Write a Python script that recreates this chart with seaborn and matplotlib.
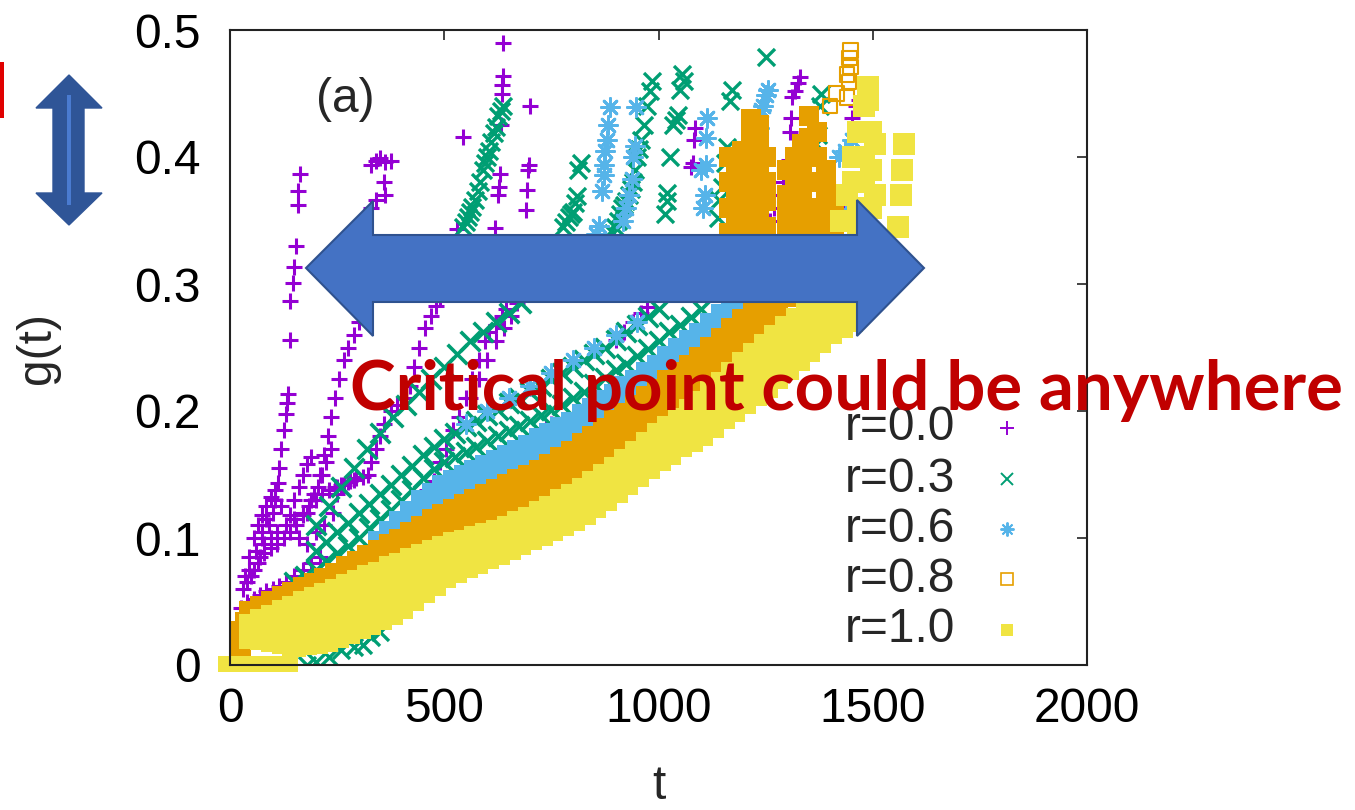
import matplotlib
matplotlib.use("Agg")
import matplotlib.pyplot as plt
import seaborn as sns
from matplotlib.patches import Polygon, Rectangle
from matplotlib.lines import Line2D

# ---------------- data ----------------
X_TICKS = [0, 500, 1000, 1500, 2000]
X_TICK_LABELS = ["0", "500", "1000", "1500", "2000"]
Y_TICKS = [0, 0.1, 0.2, 0.3, 0.4, 0.5]
Y_TICK_LABELS = ["0", "0.1", "0.2", "0.3", "0.4", "0.5"]
LABELS = ["r=0.0", "r=0.3", "r=0.6", "r=0.8", "r=1.0"]

# r = 0.0 (purple) runs
P_BASE_T = [25, 40, 55, 70, 85, 100, 115, 130, 150, 170, 190, 210]
P_BASE_G = [0.045, 0.05, 0.052, 0.055, 0.058, 0.06, 0.062, 0.065, 0.07, 0.075, 0.08, 0.085]
P_M1_T = [40, 55, 70, 80, 95, 110, 130, 150, 170, 190, 205, 215, 225, 235]
P_M1_G = [0.065, 0.075, 0.085, 0.095, 0.10, 0.105, 0.11, 0.115, 0.12, 0.13, 0.14, 0.15, 0.16, 0.17]
P_M2_T = [60, 75, 85, 100, 120, 140, 160, 180, 200, 220, 240, 250]
P_M2_G = [0.09, 0.105, 0.115, 0.12, 0.125, 0.118, 0.10, 0.095, 0.105, 0.11, 0.12, 0.135]
P_M3_T = [50, 65, 80, 95, 110, 125, 140, 155, 170, 185, 200, 215, 230, 245, 260, 275, 290]
P_M3_G = [0.07, 0.08, 0.088, 0.092, 0.095, 0.10, 0.105, 0.11, 0.118, 0.125, 0.13, 0.135, 0.138, 0.14, 0.142, 0.144, 0.146]
P_M4_T = [35, 45, 55, 65, 75, 85, 95, 105, 150, 160, 170, 180, 190]
P_M4_G = [0.07, 0.085, 0.10, 0.11, 0.118, 0.125, 0.132, 0.138, 0.13, 0.14, 0.15, 0.158, 0.164]
P_A_T = [30, 45, 60, 75, 90, 105, 112, 115, 120, 125, 130, 132, 135, 140, 140, 147, 150, 154, 159, 159, 163]
P_A_G = [0.06, 0.075, 0.09, 0.10, 0.11, 0.13, 0.143, 0.155, 0.17, 0.185, 0.198, 0.206, 0.213, 0.256, 0.287, 0.301, 0.313, 0.33, 0.362, 0.373, 0.387]
P_B_T = [180, 195, 210, 220, 228, 235, 245, 255, 265, 275, 290, 300, 315, 330, 340, 362, 360, 330, 340, 350, 362, 375]
P_B_G = [0.12, 0.135, 0.15, 0.165, 0.18, 0.195, 0.21, 0.225, 0.24, 0.25, 0.26, 0.27, 0.285, 0.36, 0.366, 0.37, 0.38, 0.394, 0.397, 0.399, 0.396, 0.397]
P_C_T = [250, 265, 280, 295, 310, 322, 330, 340, 350, 360, 375, 390, 410, 420, 430, 440, 455, 470, 480, 490, 530, 543]
P_C_G = [0.14, 0.142, 0.145, 0.147, 0.148, 0.15, 0.16, 0.17, 0.18, 0.19, 0.20, 0.205, 0.21, 0.22, 0.235, 0.25, 0.265, 0.275, 0.283, 0.29, 0.343, 0.416]
P_D_T = [440, 460, 475, 490, 505, 520, 535, 550, 565, 580, 595, 605, 620, 635, 645, 618, 625, 627, 630, 632, 635, 635, 637, 637]
P_D_G = [0.13, 0.138, 0.145, 0.16, 0.17, 0.185, 0.195, 0.21, 0.225, 0.24, 0.255, 0.262, 0.268, 0.275, 0.28, 0.344, 0.37, 0.376, 0.387, 0.425, 0.45, 0.457, 0.464, 0.49]
P_E_T = [560, 580, 600, 620, 640, 655, 670, 690, 692, 695, 697, 700]
P_E_G = [0.21, 0.225, 0.24, 0.255, 0.265, 0.275, 0.285, 0.358, 0.374, 0.39, 0.394, 0.44]
P_F_T = [690, 705, 720, 738, 750]
P_F_G = [0.17, 0.175, 0.18, 0.187, 0.19]
P_G_T = [900, 920, 940, 960, 972]
P_G_G = [0.256, 0.262, 0.27, 0.277, 0.282]
P_H_T = [1075, 1080, 1084, 1086]
P_H_G = [0.392, 0.395, 0.413, 0.423]
P_I_T = [1189, 1205, 1219]
P_I_G = [0.274, 0.282, 0.29]
P_J_T = [1252, 1260, 1270, 1280, 1290, 1300, 1305, 1308, 1310, 1312, 1318, 1325, 1330]
P_J_G = [0.34, 0.35, 0.36, 0.37, 0.38, 0.39, 0.398, 0.42, 0.431, 0.447, 0.452, 0.458, 0.463]
P_K_T = [1434, 1450, 1452, 1460, 1469]
P_K_G = [0.356, 0.376, 0.431, 0.44, 0.445]

# r = 0.3 (green) runs
G_BOT_T = [180, 200, 230, 260, 290, 310, 330, 350]
G_BOT_G = [0.0, 0.002, 0.006, 0.012, 0.014, 0.016, 0.022, 0.026]
G_L1_T = [150, 175, 200, 225, 250, 275, 300, 325, 350, 375, 400, 425, 450, 475, 500, 525, 550, 575, 600, 625,
          650, 675, 700, 725, 750, 775, 800, 825, 850, 875, 900, 925, 950, 975, 1000, 1025, 1050, 1075, 1100]
G_L1_G = [0.065, 0.070, 0.075, 0.082, 0.088, 0.094, 0.100, 0.108, 0.115, 0.122, 0.130, 0.138, 0.147, 0.154,
          0.160, 0.164, 0.168, 0.172, 0.176, 0.180, 0.184, 0.188, 0.192, 0.197, 0.201, 0.205, 0.210, 0.215,
          0.221, 0.226, 0.232, 0.237, 0.243, 0.249, 0.255, 0.262, 0.268, 0.274, 0.280]
G_L2_T = [200, 225, 250, 275, 300, 325, 350, 375, 400, 425, 450, 475, 500, 525, 550, 575, 600, 625, 650, 675,
          700, 725, 750, 775, 800, 825, 850, 875, 900, 925, 950, 975, 1000]
G_L2_G = [0.090, 0.097, 0.105, 0.112, 0.120, 0.127, 0.135, 0.142, 0.150, 0.157, 0.165, 0.172, 0.178, 0.183,
          0.188, 0.192, 0.197, 0.201, 0.206, 0.210, 0.215, 0.220, 0.225, 0.230, 0.235, 0.240, 0.245, 0.250,
          0.256, 0.262, 0.268, 0.274, 0.280]
G_U_T = [200, 230, 260, 290, 320, 350, 380, 410, 440, 470, 500, 530, 560, 590, 620, 650, 680]
G_U_G = [0.11, 0.125, 0.14, 0.155, 0.17, 0.183, 0.195, 0.205, 0.215, 0.225, 0.235, 0.245, 0.255, 0.262, 0.27, 0.277, 0.285]
G_A_T = [543, 550, 555, 560, 565, 572, 578, 583, 590, 595, 599, 605, 610, 615, 620, 625, 632, 637]
G_A_G = [0.345, 0.349, 0.353, 0.357, 0.361, 0.366, 0.373, 0.38, 0.39, 0.395, 0.40, 0.405, 0.412, 0.419, 0.424, 0.432, 0.436, 0.44]
G_B_T = [776, 783, 790, 795, 800, 805, 809, 811, 818]
G_B_G = [0.345, 0.349, 0.353, 0.355, 0.357, 0.364, 0.369, 0.39, 0.395]
G_C_T = [893, 899, 905, 910, 915, 920, 925, 932, 936, 940, 945, 950, 955, 960, 965, 972, 979, 985]
G_C_G = [0.34, 0.345, 0.35, 0.355, 0.36, 0.362, 0.365, 0.37, 0.375, 0.38, 0.39, 0.40, 0.406, 0.413, 0.425, 0.44, 0.452, 0.46]
G_D_T = [1015, 1019, 1019, 1026, 1033, 1040, 1045, 1050, 1054, 1060]
G_D_G = [0.355, 0.365, 0.372, 0.40, 0.425, 0.429, 0.433, 0.453, 0.465, 0.46]
G_E_T = [1140, 1142, 1148, 1155, 1161, 1168, 1172]
G_E_G = [0.352, 0.366, 0.376, 0.395, 0.408, 0.444, 0.453]
G_F_T = [1252]
G_F_G = [0.479]
G_G_T = [1362, 1367, 1372, 1377, 1380]
G_G_G = [0.40, 0.41, 0.417, 0.44, 0.45]

# r = 0.6 (blue) runs
B_T = [350, 375, 400, 425, 450, 475, 500, 525, 550, 575, 600, 625, 650, 675, 700, 725, 750, 775, 800, 825,
       850, 875, 900, 925, 950, 975, 1000, 1025, 1050, 1075, 1100, 1125, 1150, 1175, 1200]
B_1_G = [0.096, 0.104, 0.112, 0.120, 0.128, 0.134, 0.140, 0.144, 0.148, 0.152, 0.156, 0.160, 0.164, 0.168,
         0.172, 0.177, 0.181, 0.186, 0.190, 0.196, 0.201, 0.207, 0.212, 0.218, 0.223, 0.229, 0.235, 0.242,
         0.248, 0.254, 0.260, 0.268, 0.275, 0.283, 0.290]
B_2_G = [0.081, 0.090, 0.098, 0.106, 0.114, 0.120, 0.126, 0.130, 0.134, 0.138, 0.142, 0.146, 0.150, 0.154,
         0.158, 0.163, 0.167, 0.172, 0.176, 0.182, 0.187, 0.193, 0.198, 0.204, 0.209, 0.215, 0.221, 0.228,
         0.234, 0.240, 0.246, 0.254, 0.261, 0.269, 0.276]
B_U_T = [550, 600, 650, 700, 750, 800, 850, 900, 950]
B_U_G = [0.19, 0.20, 0.21, 0.22, 0.23, 0.24, 0.25, 0.26, 0.27]
B_C1_T = [855, 862, 868, 872, 872, 875, 880, 882, 886]
B_C1_G = [0.339, 0.346, 0.373, 0.386, 0.394, 0.405, 0.413, 0.425, 0.439]
B_C2_T = [917, 925, 932, 938, 940, 944, 948]
B_C2_G = [0.35, 0.36, 0.37, 0.383, 0.40, 0.409, 0.439]
B_C3_T = [1100, 1105, 1108, 1110, 1112, 1114]
B_C3_G = [0.39, 0.36, 0.37, 0.394, 0.415, 0.431]
B_C4_T = [1228, 1232, 1235, 1240, 1245, 1252, 1255]
B_C4_G = [0.392, 0.41, 0.423, 0.437, 0.44, 0.449, 0.453]
B_TAIL_T = [1382, 1400, 1420, 1438, 1422, 1435, 1452]
B_TAIL_G = [0.34, 0.345, 0.35, 0.357, 0.40, 0.405, 0.413]

# r = 0.8 (orange) runs
O_1_T = [50, 75, 100, 125, 150, 175, 200, 225, 250, 275, 300, 325, 350, 375, 400, 425, 450, 475, 500, 525,
         550, 575, 600, 625, 650, 675, 700, 725, 750, 775, 800, 825, 850, 875, 900, 925, 950, 975, 1000,
         1025, 1050, 1075, 1100, 1125, 1150, 1175, 1200, 1225, 1250, 1275, 1300, 1325, 1350]
O_1_G = [0.041, 0.045, 0.049, 0.053, 0.056, 0.060, 0.063, 0.067, 0.071, 0.076, 0.080, 0.085, 0.089, 0.094,
         0.098, 0.103, 0.108, 0.113, 0.117, 0.121, 0.125, 0.129, 0.133, 0.137, 0.141, 0.145, 0.148, 0.152,
         0.157, 0.162, 0.167, 0.173, 0.179, 0.185, 0.191, 0.197, 0.203, 0.210, 0.216, 0.223, 0.229, 0.235,
         0.241, 0.249, 0.256, 0.264, 0.271, 0.280, 0.289, 0.299, 0.309, 0.320, 0.330]
O_2_T = [400, 425, 450, 475, 500, 525, 550, 575, 600, 625, 650, 675, 700, 725, 750, 775, 800, 825, 850, 875,
         900, 925, 950, 975, 1000, 1025, 1050, 1075, 1100, 1125, 1150, 1175, 1200, 1225, 1250, 1275, 1300,
         1325, 1350]
O_2_G = [0.080, 0.085, 0.090, 0.095, 0.099, 0.103, 0.107, 0.111, 0.115, 0.119, 0.123, 0.127, 0.130, 0.135,
         0.139, 0.144, 0.149, 0.155, 0.161, 0.167, 0.173, 0.179, 0.185, 0.192, 0.198, 0.205, 0.211, 0.217,
         0.223, 0.231, 0.238, 0.246, 0.253, 0.262, 0.271, 0.281, 0.291, 0.302, 0.313]
O_S_T = [20, 30, 40]
O_S_G = [0.015, 0.025, 0.032]
O_C_T = [1165, 1165, 1165, 1165, 1180, 1180, 1180, 1180, 1195, 1195, 1195, 1195, 1195, 1215, 1215, 1215,
         1215, 1215, 1215, 1235, 1235, 1235, 1235, 1235, 1235, 1250, 1250, 1250, 1250,
         1300, 1300, 1300, 1300, 1318, 1318, 1318, 1318, 1335, 1335, 1335, 1335, 1335,
         1352, 1352, 1352, 1352, 1352, 1352, 1370, 1370, 1370, 1370, 1370, 1390, 1390, 1390, 1390,
         1410, 1410, 1410]
O_C_G = [0.34, 0.36, 0.38, 0.40, 0.345, 0.365, 0.385, 0.40, 0.34, 0.355, 0.375, 0.39, 0.405, 0.35, 0.365,
         0.385, 0.40, 0.415, 0.43, 0.34, 0.36, 0.375, 0.395, 0.41, 0.425, 0.345, 0.365, 0.38, 0.40,
         0.34, 0.355, 0.37, 0.39, 0.345, 0.36, 0.38, 0.40, 0.34, 0.355, 0.375, 0.395, 0.41,
         0.345, 0.36, 0.38, 0.40, 0.415, 0.432, 0.34, 0.36, 0.38, 0.40, 0.42, 0.345, 0.36, 0.375, 0.39,
         0.34, 0.355, 0.37]
O_OPEN_T = [1215, 1225, 1250, 1330, 1395, 1400, 1415, 1440, 1445, 1440, 1448, 1446, 1448]
O_OPEN_G = [0.43, 0.415, 0.40, 0.40, 0.375, 0.44, 0.45, 0.447, 0.459, 0.465, 0.471, 0.478, 0.484]

# r = 1.0 (yellow) runs
Y_T = [50, 75, 100, 125, 150, 175, 200, 225, 250, 275, 300, 325, 350, 375, 400, 425, 450, 475, 500, 525, 550,
       575, 600, 625, 650, 675, 700, 725, 750, 775, 800, 825, 850, 875, 900, 925, 950, 975, 1000, 1025, 1050,
       1075, 1100, 1125, 1150, 1175, 1200, 1225, 1250, 1275, 1300, 1325, 1350, 1375, 1400, 1425, 1450]
Y_1_G = [0.022, 0.021, 0.020, 0.018, 0.016, 0.017, 0.018, 0.020, 0.023, 0.026, 0.030, 0.033, 0.037, 0.041,
         0.046, 0.052, 0.058, 0.064, 0.070, 0.074, 0.078, 0.081, 0.085, 0.088, 0.092, 0.096, 0.100, 0.103,
         0.107, 0.111, 0.115, 0.120, 0.125, 0.131, 0.137, 0.143, 0.150, 0.156, 0.162, 0.167, 0.173, 0.177,
         0.182, 0.188, 0.195, 0.201, 0.207, 0.213, 0.220, 0.227, 0.234, 0.241, 0.248, 0.255, 0.262, 0.267, 0.272]
Y_2_G = [0.026, 0.028, 0.029, 0.030, 0.030, 0.033, 0.035, 0.038, 0.040, 0.044, 0.047, 0.051, 0.054, 0.058,
         0.062, 0.067, 0.072, 0.077, 0.081, 0.084, 0.087, 0.090, 0.093, 0.097, 0.100, 0.104, 0.107, 0.111,
         0.115, 0.120, 0.124, 0.129, 0.134, 0.140, 0.145, 0.152, 0.158, 0.165, 0.171, 0.177, 0.183, 0.189,
         0.194, 0.201, 0.208, 0.215, 0.222, 0.229, 0.235, 0.242, 0.249, 0.256, 0.263, 0.270, 0.276, 0.283, 0.290]
Y_3_G = [0.031, 0.035, 0.038, 0.042, 0.045, 0.049, 0.052, 0.055, 0.058, 0.062, 0.065, 0.069, 0.072, 0.076,
         0.079, 0.083, 0.086, 0.089, 0.092, 0.095, 0.097, 0.100, 0.102, 0.105, 0.108, 0.112, 0.115, 0.120,
         0.124, 0.129, 0.133, 0.138, 0.143, 0.149, 0.154, 0.161, 0.167, 0.174, 0.181, 0.187, 0.193, 0.200,
         0.206, 0.214, 0.221, 0.229, 0.237, 0.244, 0.251, 0.258, 0.265, 0.272, 0.279, 0.285, 0.291, 0.300, 0.309]
Y_BASE_T = [-10, 20, 50, 80, 110, 140]
Y_BASE_G = [0.001, 0.001, 0.001, 0.001, 0.001, 0.001]
Y_TOP_T = [1400, 1410, 1420, 1440, 1440, 1440, 1455, 1455, 1455, 1455, 1465, 1465, 1465, 1465, 1465, 1465,
           1480, 1480, 1480, 1480, 1480, 1480, 1480, 1480, 1490, 1490, 1495, 1495, 1495, 1495, 1495, 1505,
           1505, 1505, 1425, 1560, 1565, 1568, 1572]
Y_TOP_G = [0.31, 0.30, 0.32, 0.33, 0.35, 0.37, 0.33, 0.35, 0.38, 0.40, 0.31, 0.34, 0.36, 0.38, 0.40, 0.42,
           0.30, 0.32, 0.34, 0.36, 0.38, 0.40, 0.42, 0.44, 0.455, 0.445, 0.30, 0.33, 0.36, 0.39, 0.42, 0.32,
           0.37, 0.41, 0.35, 0.345, 0.37, 0.39, 0.41]

PURPLE_RUNS = [(P_BASE_T, P_BASE_G), (P_M1_T, P_M1_G), (P_M2_T, P_M2_G), (P_M3_T, P_M3_G),
               (P_M4_T, P_M4_G), (P_A_T, P_A_G),
               (P_B_T, P_B_G), (P_C_T, P_C_G), (P_D_T, P_D_G), (P_E_T, P_E_G), (P_F_T, P_F_G),
               (P_G_T, P_G_G), (P_H_T, P_H_G), (P_I_T, P_I_G), (P_J_T, P_J_G), (P_K_T, P_K_G)]
GREEN_BAND_RUNS = [(G_L1_T, G_L1_G), (G_L2_T, G_L2_G), (G_U_T, G_U_G)]
GREEN_RUNS = [(G_BOT_T, G_BOT_G), (G_A_T, G_A_G), (G_B_T, G_B_G), (G_C_T, G_C_G),
              (G_D_T, G_D_G), (G_E_T, G_E_G), (G_F_T, G_F_G), (G_G_T, G_G_G)]
BLUE_BAND_RUNS = [(B_T, B_2_G), (B_T, B_1_G)]
BLUE_RUNS = [(B_U_T, B_U_G), (B_C1_T, B_C1_G), (B_C2_T, B_C2_G), (B_C3_T, B_C3_G),
             (B_C4_T, B_C4_G), (B_TAIL_T, B_TAIL_G)]
ORANGE_BAND_RUNS = [(O_S_T, O_S_G), (O_2_T, O_2_G), (O_1_T, O_1_G)]
YELLOW_BAND_RUNS = [(Y_T, Y_1_G), (Y_T, Y_2_G), (Y_T, Y_3_G)]

# ---------------- styling ----------------
PURPLE, GREEN, BLUE, ORANGE, YELLOW = "#9400D3", "#009E73", "#56B4E9", "#E69F00", "#F0E442"
ASTERISK = (8, 2, 0)

sns.set_theme(style="white")
plt.rcParams['font.family'] = ['Liberation Sans', 'DejaVu Sans']
FS = 34.5

W, H = 1355, 810
fig = plt.figure(figsize=(W / 100, H / 100), dpi=100)


def fx(px):
    return px / W


def fy(py):
    return 1 - py / H


ax = fig.add_axes([fx(230), fy(665), (1087 - 230) / W, (665 - 30) / H])


def draw(t, g, **kw):
    sns.scatterplot(x=t, y=g, ax=ax, legend=False, **kw)


for t, g in PURPLE_RUNS:
    draw(t, g, marker='+', s=140, color=PURPLE, linewidth=2.2)
for t, g in GREEN_BAND_RUNS:
    draw(t, g, marker='x', s=200, color=GREEN, linewidth=2.6)
for t, g in GREEN_RUNS:
    draw(t, g, marker='x', s=150, color=GREEN, linewidth=2.4)
for t, g in BLUE_BAND_RUNS:
    draw(t, g, marker='s', s=300, color=BLUE, linewidth=0)
for t, g in BLUE_RUNS:
    draw(t, g, marker=ASTERISK, s=170, color=BLUE, linewidth=2.0)
for t, g in ORANGE_BAND_RUNS:
    draw(t, g, marker='s', s=300, color=ORANGE, linewidth=0)
draw(O_C_T, O_C_G, marker='s', s=200, color=ORANGE, linewidth=0)
draw(O_OPEN_T, O_OPEN_G, marker='s', s=110, color=ORANGE, facecolor='none',
     edgecolor=ORANGE, linewidth=1.5)
for t, g in YELLOW_BAND_RUNS:
    draw(t, g, marker='s', s=300, color=YELLOW, linewidth=0)
draw(Y_BASE_T, Y_BASE_G, marker='s', s=130, color=YELLOW, linewidth=0, clip_on=False)
draw(Y_TOP_T, Y_TOP_G, marker='s', s=230, color=YELLOW, linewidth=0)

ax.set_xlim(0, 2000)
ax.set_ylim(0, 0.5)
ax.set_xticks(X_TICKS)
ax.set_xticklabels(X_TICK_LABELS)
ax.set_yticks(Y_TICKS)
ax.set_yticklabels(Y_TICK_LABELS)
ax.tick_params(axis='both', direction='in', length=7, width=1.2, color='#222222',
               labelsize=FS, labelcolor='black', top=True, right=True)
ax.tick_params(axis='x', pad=16)
ax.tick_params(axis='y', pad=21)
for sp in ax.spines.values():
    sp.set_linewidth(1.5)
    sp.set_color('#222222')
    sp.set_visible(True)
ax.set_xlabel('t', fontsize=FS)
ax.xaxis.set_label_coords(0.5, -0.156)
ax.set_ylabel('g(t)', fontsize=FS)
ax.yaxis.set_label_coords(-0.198, 0.5)
ax.text(0.135, 0.891, '(a)', transform=ax.transAxes, ha='center', va='center', fontsize=FS)

# legend (gnuplot style: text then sample)
LEG_Y = [428, 479, 529, 579, 630]
LEG_STYLE = [
    dict(marker='+', color=PURPLE, markersize=10, mew=1.4),
    dict(marker='x', color=GREEN, markersize=9, mew=1.4),
    dict(marker=ASTERISK, color=BLUE, markersize=10, mew=1.4),
    dict(marker='s', color=ORANGE, markersize=9, mew=1.2, mfc='none'),
    dict(marker='s', color=YELLOW, markersize=9, mew=0),
]
for lab, yy, st in zip(LABELS, LEG_Y, LEG_STYLE):
    fig.text(fx(955), fy(yy), lab, ha='right', va='center', fontsize=FS, zorder=3)
    fig.add_artist(Line2D([fx(1007)], [fy(yy)], transform=fig.transFigure,
                          linestyle='none', zorder=3, **st))

# ---------------- overlay annotations ----------------
ARROW_H = [(306, 268), (373, 201), (373, 235), (857, 235), (857, 200), (924, 268),
           (857, 336), (857, 302), (373, 302), (373, 336)]
fig.add_artist(Polygon([(fx(x), fy(y)) for x, y in ARROW_H], closed=True,
                       transform=fig.transFigure, facecolor='#4472C4',
                       edgecolor='#2F528F', linewidth=1.5, zorder=4))
ARROW_V = [(69, 75), (102, 108), (84, 108), (84, 193), (102, 193), (69, 225),
           (36, 193), (53, 193), (53, 108), (36, 108)]
fig.add_artist(Polygon([(fx(x), fy(y)) for x, y in ARROW_V], closed=True,
                       transform=fig.transFigure, facecolor='#2F5597',
                       edgecolor='#2F5597', linewidth=1.0, zorder=4))
fig.add_artist(Rectangle((fx(67), fy(205)), (71 - 67) / W, (205 - 95) / H,
                         transform=fig.transFigure, facecolor='#4A7BD0',
                         edgecolor='none', zorder=5))
fig.add_artist(Rectangle((0, fy(118)), 3.5 / W, (118 - 62) / H,
                         transform=fig.transFigure, facecolor='#E00000',
                         edgecolor='none', zorder=5))

txt = fig.text(fx(350), fy(410), "Critical point could be anywhere",
               fontfamily=['Lato', 'DejaVu Sans'], fontweight='bold', color='#C00000',
               fontsize=54, ha='left', va='baseline', zorder=6)
fig.canvas.draw()
bb = txt.get_window_extent(renderer=fig.canvas.get_renderer())
txt.set_fontsize(54 * (1345 - 350) / bb.width)

fig.savefig('out.png', dpi=100)
